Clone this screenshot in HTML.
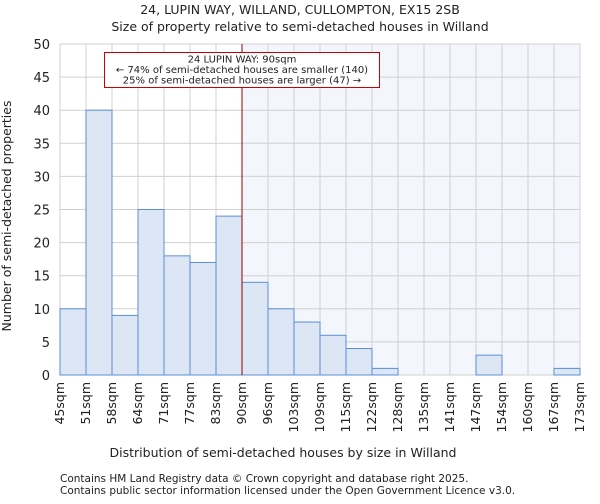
<!DOCTYPE html>
<html><head><meta charset="utf-8"><style>
body{margin:0;background:#fff;font-family:"DejaVu Sans","Liberation Sans",sans-serif;}
svg text{font-family:"DejaVu Sans","Liberation Sans",sans-serif;fill:#222;}
</style></head><body>
<svg id="c" width="600" height="500" xmlns="http://www.w3.org/2000/svg">
<text x="300" y="14" text-anchor="middle" font-size="12.5">24, LUPIN WAY, WILLAND, CULLOMPTON, EX15 2SB</text>
<text x="300" y="31" text-anchor="middle" font-size="12.5">Size of property relative to semi-detached houses in Willand</text>
<g id="plot"></g>
<text x="283" y="457" text-anchor="middle" font-size="12.5">Distribution of semi-detached houses by size in Willand</text>
<text transform="translate(11,216) rotate(-90)" text-anchor="middle" font-size="12.5">Number of semi-detached properties</text>
<text x="60" y="482" font-size="10.5" fill="#444">Contains HM Land Registry data © Crown copyright and database right 2025.</text>
<text x="60" y="494" font-size="10.5" fill="#444">Contains public sector information licensed under the Open Government Licence v3.0.</text>
</svg>
<script>
const categories=["45sqm","51sqm","58sqm","64sqm","71sqm","77sqm","83sqm","90sqm","96sqm","103sqm","109sqm","115sqm","122sqm","128sqm","135sqm","141sqm","147sqm","154sqm","160sqm","167sqm","173sqm"];
const counts=[10,40,9,25,18,17,24,14,10,8,6,4,1,0,0,0,3,0,0,1];
const yTicks=[0,5,10,15,20,25,30,35,40,45,50];
const markerBin=7;
const annotationLines=["24 LUPIN WAY: 90sqm","← 74% of semi-detached houses are smaller (140)","25% of semi-detached houses are larger (47) →"];
const L=60,R=580,T=44,B=375,yMax=50;
const n=counts.length,bw=(R-L)/n;
const x=i=>L+i*bw, y=v=>B-(v/yMax)*(B-T);
const g=document.getElementById('plot'),NS="http://www.w3.org/2000/svg";
function mk(t,a){const e=document.createElementNS(NS,t);for(const k in a)e.setAttribute(k,a[k]);g.appendChild(e);return e;}
let e=mk('rect',{x:x(markerBin),y:T,width:R-x(markerBin),height:B-T,fill:'#f3f6fd'});


for(let i=0;i<=n;i++){e=mk('line',{x1:x(i),x2:x(i),y1:T,y2:B,stroke:'#d0d0d0','stroke-width':1});

}
yTicks.forEach(v=>{e=mk('line',{x1:L,x2:R,y1:y(v),y2:y(v),stroke:'#d0d0d0','stroke-width':1});


e=mk('text',{x:L-10,y:y(v)+5,'text-anchor':'end','font-size':'13'});e.textContent=v;

});
counts.forEach((v,i)=>{if(v<=0)return;e=mk('rect',{x:x(i),y:y(v),width:bw,height:B-y(v),fill:'#dce6f4',stroke:'#5b8fd6','stroke-width':1});

});
categories.forEach((c,i)=>{e=mk('text',{transform:`translate(${x(i)+4},382) rotate(-90)`,'text-anchor':'end','font-size':'12.5'});e.textContent=c;

});
e=mk('line',{x1:x(markerBin),x2:x(markerBin),y1:T,y2:B,stroke:'#990000','stroke-width':1});


e=mk('rect',{x:104.5,y:52.5,width:275,height:35,fill:'#fff',stroke:'#cc0000','stroke-width':1});


annotationLines.forEach((s,i)=>{e=mk('text',{x:242,y:62.5+i*10.5,'text-anchor':'middle','font-size':'10'});e.textContent=s;

});
</script>
</body></html>
